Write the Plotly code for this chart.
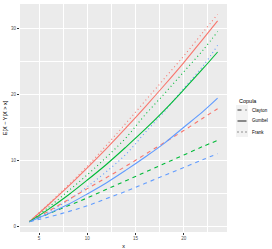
import plotly.graph_objects as go

# ---- data ----
x_vals = [4, 6, 8, 10, 12, 14, 16, 18, 20, 22, 23.5]

# Gumbel (solid)
gumbel_red   = [0.7, 3.3, 6.0, 8.85, 11.8, 14.9, 18.1, 21.4, 24.8, 28.4, 31.1]
gumbel_green = [0.7, 2.6, 4.7, 7.0, 9.4, 12.0, 14.7, 17.6, 20.7, 23.9, 26.4]
gumbel_blue  = [0.7, 1.95, 3.3, 4.9, 6.6, 8.5, 10.5, 12.6, 15.0, 17.4, 19.4]
# Frank (dotted)
frank_red    = [0.7, 3.4, 6.2, 9.1, 12.3, 15.6, 19.0, 22.4, 25.8, 29.4, 32.1]
frank_green  = [0.7, 2.9, 5.3, 7.8, 10.5, 13.4, 16.9, 20.1, 23.4, 26.7, 29.5]
frank_blue   = [0.7, 2.2, 3.9, 6.0, 8.3, 10.9, 14.2, 17.4, 20.9, 24.3, 27.4]
# Clayton (dashed)
clayton_red   = [0.7, 2.3, 4.0, 5.7, 7.4, 9.1, 10.9, 12.7, 14.5, 16.4, 17.8]
clayton_green = [0.7, 1.9, 3.1, 4.3, 5.6, 6.9, 8.2, 9.5, 10.8, 12.1, 13.0]
clayton_blue  = [0.7, 1.4, 2.2, 3.1, 4.2, 5.3, 6.5, 7.7, 8.9, 10.1, 11.0]

copulas = ["Clayton", "Gumbel", "Frank"]
x_ticks = [5, 10, 15, 20]
y_ticks = [0, 10, 20, 30]

series = {
    ("Clayton", 0): clayton_red, ("Clayton", 1): clayton_green, ("Clayton", 2): clayton_blue,
    ("Gumbel", 0): gumbel_red, ("Gumbel", 1): gumbel_green, ("Gumbel", 2): gumbel_blue,
    ("Frank", 0): frank_red, ("Frank", 1): frank_green, ("Frank", 2): frank_blue,
}

# ---- styles ----
colors = ["#F8766D", "#00BA38", "#619CFF"]
dashes = {"Clayton": "4px,4px", "Gumbel": "solid", "Frank": "1px,3px"}
FONT = "Liberation Sans"

fig = go.Figure()
for cop in ["Frank", "Clayton", "Gumbel"]:
    for ci in range(3):
        fig.add_trace(go.Scatter(
            x=x_vals, y=series[(cop, ci)], mode="lines",
            line=dict(color=colors[ci], width=1.1, dash=dashes[cop], shape="spline"),
            showlegend=False, hoverinfo="skip"))

# axis ranges with ggplot-style 5% expansion
all_y = [v for s in series.values() for v in s]
ymin, ymax = min(all_y), max(all_y)
xmin, xmax = min(x_vals), max(x_vals)
xr = [xmin - 0.05 * (xmax - xmin), xmax + 0.05 * (xmax - xmin)]
yr = [ymin - 0.05 * (ymax - ymin), ymax + 0.05 * (ymax - ymin)]

L, R, T, B, W, H = 20, 45, 4, 17, 272, 249
PW, PH = W - L - R, H - T - B
def px(xp):
    return (xp - L) / PW
def py(yp):
    return (H - B - yp) / PH

axis_common = dict(
    showgrid=True, gridcolor="white", gridwidth=1.0,
    zeroline=False, showline=False, automargin=False,
    ticks="outside", ticklen=2, tickwidth=0.6, tickcolor="#333333",
    tickfont=dict(family=FONT, size=4.5, color="#4D4D4D"),
)

fig.update_xaxes(range=xr, tickvals=x_ticks, **axis_common,
                 minor=dict(tickvals=[7.5, 12.5, 17.5, 22.5], ticks="",
                            showgrid=True, gridcolor="white", gridwidth=0.5),
                 title=dict(text="x", font=dict(family=FONT, size=5.5, color="black"), standoff=3))
fig.update_yaxes(range=yr, tickvals=y_ticks, **axis_common,
                 minor=dict(tickvals=[5, 15, 25], ticks="",
                            showgrid=True, gridcolor="white", gridwidth=0.5),
                 title=dict(text="E[X − Y|X > x]", font=dict(family=FONT, size=5.5, color="black"), standoff=3))

# ---- manual legend (linetype) ----
shapes = [dict(type="rect", xref="paper", yref="paper",
               x0=px(236), x1=px(248), y0=py(137), y1=py(105),
               fillcolor="#F2F2F2", line=dict(width=0), layer="below")]
annotations = [dict(text="Copula", xref="paper", yref="paper", x=px(236.5), y=py(101),
                    xanchor="left", yanchor="middle", showarrow=False,
                    font=dict(family=FONT, size=5.5, color="black"))]
leg_y = [110, 121, 132]
for cop, yy in zip(copulas, leg_y):
    shapes.append(dict(type="line", xref="paper", yref="paper",
                       x0=px(237.5), x1=px(246.5), y0=py(yy), y1=py(yy),
                       line=dict(color="#333333", width=1.1, dash=dashes[cop])))
    annotations.append(dict(text=cop, xref="paper", yref="paper", x=px(250), y=py(yy),
                            xanchor="left", yanchor="middle", showarrow=False,
                            font=dict(family=FONT, size=4.5, color="black")))

fig.update_layout(
    width=W, height=H,
    margin=dict(l=L, r=R, t=T, b=B, pad=0, autoexpand=False),
    paper_bgcolor="white", plot_bgcolor="#EBEBEB",
    showlegend=False, shapes=shapes, annotations=annotations,
)

fig.write_html("out.html", config={"displayModeBar": False},
               post_script="document.body.style.margin='0';document.body.style.overflow='hidden';")
